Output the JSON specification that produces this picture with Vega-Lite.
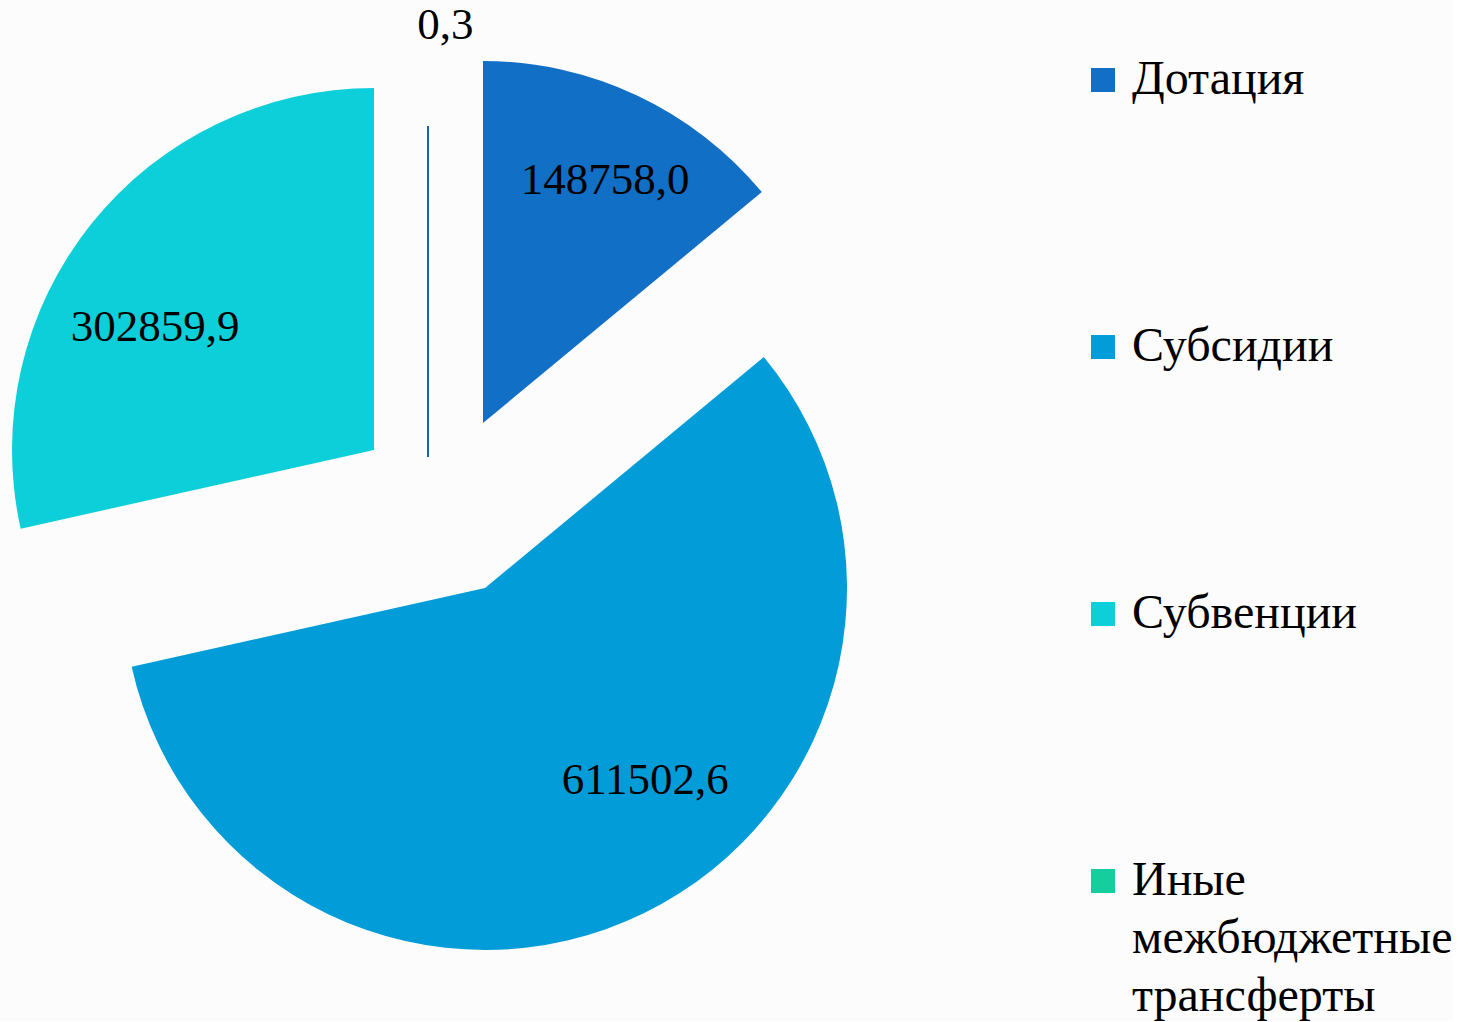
{
  "$schema": "https://vega.github.io/schema/vega-lite/v6.json",
  "width": 888,
  "height": 1012,
  "padding": 0,
  "background": "#fcfcfc",
  "config": {"view": {"stroke": null}},
  "data": {"values": [
    {"category": "Дотация", "value": 148758.0, "label": "148758,0"},
    {"category": "Субсидии", "value": 611502.6, "label": "611502,6"},
    {"category": "Субвенции", "value": 302859.9, "label": "302859,9"},
    {"category": "Иные межбюджетные трансферты", "value": 0.3, "label": "0,3"}
  ]},
  "transform": [{"stack": "value", "groupby": [], "as": ["v0", "v1"]}],
  "layer": [
    {
      "transform": [{"filter": "datum.category == 'Дотация'"}],
      "mark": {"type": "arc", "radius": 362, "xOffset": 39, "yOffset": -83},
      "encoding": {
        "theta": {"field": "v0", "type": "quantitative", "scale": {"zero": true}},
        "theta2": {"field": "v1"},
        "color": {"field": "category", "type": "nominal",
          "scale": {"domain": ["Дотация", "Субсидии", "Субвенции", "Иные межбюджетные трансферты"],
                    "range": ["#116FC5", "#029DD8", "#0DCFD9", "#15CE9D"]},
          "legend": {"orient": "none", "legendX": 1079, "legendY": 56, "title": null,
            "symbolType": "square", "symbolSize": 576, "symbolStrokeWidth": 0,
            "labelFont": "Liberation Serif", "labelFontSize": 48, "labelColor": "#000000",
            "labelOffset": 5, "rowPadding": 219, "labelLimit": 500,
            "labelExpr": "datum.label == 'Иные межбюджетные трансферты' ? ['Иные', 'межбюджетные', 'трансферты'] : datum.label",
            "encode": {"labels": {"update": {"lineHeight": {"value": 58}}}}}}
      }
    },
    {
      "transform": [{"filter": "datum.category == 'Субсидии'"}],
      "mark": {"type": "arc", "radius": 362, "xOffset": 41, "yOffset": 82},
      "encoding": {
        "theta": {"field": "v0", "type": "quantitative"},
        "theta2": {"field": "v1"},
        "color": {"field": "category", "type": "nominal"}
      }
    },
    {
      "transform": [{"filter": "datum.category == 'Субвенции'"}],
      "mark": {"type": "arc", "radius": 362, "xOffset": -70, "yOffset": -56},
      "encoding": {
        "theta": {"field": "v0", "type": "quantitative"},
        "theta2": {"field": "v1"},
        "color": {"field": "category", "type": "nominal"}
      }
    },
    {
      "transform": [{"filter": "datum.category == 'Иные межбюджетные трансферты'"}],
      "mark": {"type": "arc", "radius": 330, "xOffset": -16, "yOffset": -49, "stroke": "#1565B0", "strokeWidth": 2},
      "encoding": {
        "theta": {"field": "v0", "type": "quantitative"},
        "theta2": {"field": "v1"},
        "color": {"field": "category", "type": "nominal"}
      }
    },
    {
      "transform": [{"filter": "datum.category == 'Дотация'"}],
      "mark": {"type": "text", "radius": 272, "thetaOffset": 0.466, "xOffset": 39, "yOffset": -83,
        "font": "Liberation Serif", "fontSize": 45, "fill": "#000000", "align": "center", "baseline": "middle"},
      "encoding": {"theta": {"field": "v0", "type": "quantitative"}, "text": {"field": "label"}}
    },
    {
      "transform": [{"filter": "datum.category == 'Субсидии'"}],
      "mark": {"type": "text", "radius": 250, "thetaOffset": 1.567, "xOffset": 41, "yOffset": 82,
        "font": "Liberation Serif", "fontSize": 45, "fill": "#000000", "align": "center", "baseline": "middle"},
      "encoding": {"theta": {"field": "v0", "type": "quantitative"}, "text": {"field": "label"}}
    },
    {
      "transform": [{"filter": "datum.category == 'Субвенции'"}],
      "mark": {"type": "text", "radius": 251, "thetaOffset": 0.730, "xOffset": -70, "yOffset": -56,
        "font": "Liberation Serif", "fontSize": 45, "fill": "#000000", "align": "center", "baseline": "middle"},
      "encoding": {"theta": {"field": "v0", "type": "quantitative"}, "text": {"field": "label"}}
    },
    {
      "transform": [{"filter": "datum.category == 'Иные межбюджетные трансферты'"}],
      "mark": {"type": "text", "radius": 432, "thetaOffset": 0.04, "xOffset": -16, "yOffset": -49,
        "font": "Liberation Serif", "fontSize": 45, "fill": "#000000", "align": "center", "baseline": "middle"},
      "encoding": {"theta": {"field": "v0", "type": "quantitative"}, "text": {"field": "label"}}
    }
  ]
}
